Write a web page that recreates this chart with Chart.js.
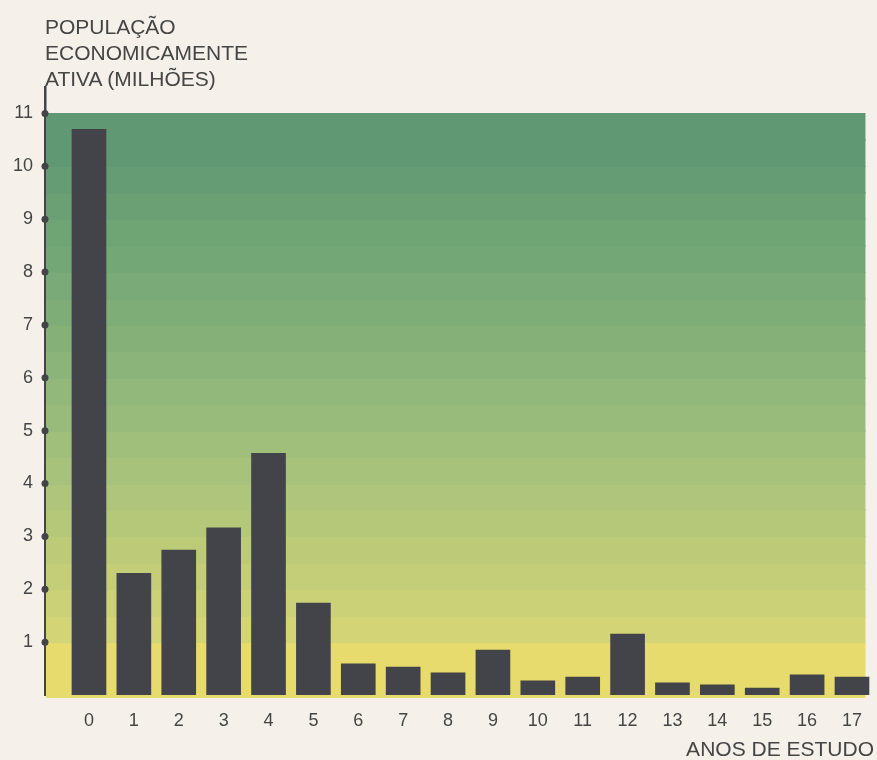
<!DOCTYPE html>
<html>
<head>
<meta charset="utf-8">
<script src="https://cdn.jsdelivr.net/npm/chart.js@4"></script>
<style>
  html, body { margin: 0; padding: 0; background: #f5f1ea; }
  #wrap { position: relative; width: 877px; height: 760px; }
  #titulo {
    position: absolute; left: 45px; top: 14px;
    font-family: "Liberation Sans", Arial, sans-serif; font-size: 21px;
    line-height: 26px; color: #454545;
  }
</style>
</head>
<body>
<div id="wrap">
  <canvas id="grafico" width="877" height="760"></canvas>
  <div id="titulo">POPULAÇÃO<br>ECONOMICAMENTE<br>ATIVA (MILHÕES)</div>
</div>
<script>
// anos de estudo (categorias) e populacao economicamente ativa em milhoes
const anos = [0, 1, 2, 3, 4, 5, 6, 7, 8, 9, 10, 11, 12, 13, 14, 15, 16, 17];
const populacao = [10.7, 2.3, 2.74, 3.16, 4.57, 1.74, 0.59, 0.53, 0.42, 0.85, 0.27, 0.34, 1.15, 0.23, 0.19, 0.13, 0.38, 0.34];
const yTicks = [1, 2, 3, 4, 5, 6, 7, 8, 9, 10, 11];

// kleuren van de achtergrond, van onder (0) naar boven (11)
const faixas = ['#e6db6c', '#d2d475', '#c4ce78', '#b5c87a', '#a6c27b', '#98bb7b',
                '#8bb47a', '#7fad78', '#74a776', '#6aa074', '#5f9872'];

const fundo = {
  id: 'fundo',
  beforeDatasetsDraw(chart) {
    const { ctx, scales: { x, y } } = chart;
    const esq = x.left + 1;
    const dir = x.getPixelForValue(17.3);
    ctx.save();
    for (let i = 0; i < faixas.length; i++) {
      // elke eenheid in twee banden
      for (let h = 0; h < 2; h++) {
        const v0 = i + h * 0.5, v1 = v0 + 0.5;
        let cor = faixas[i];
        if (h === 1 && i < faixas.length - 1 && i > 0) {
          cor = mistura(faixas[i], faixas[i + 1]);
        }
        ctx.fillStyle = cor;
        const t = y.getPixelForValue(v1), b = y.getPixelForValue(v0) + (v0 === 0 ? 2 : 0);
        ctx.fillRect(esq, Math.floor(t), dir - esq, Math.ceil(b - t) + 1);
      }
    }
    ctx.restore();
  },
  afterDraw(chart) {
    const { ctx, scales: { y } } = chart;
    ctx.save();
    ctx.fillStyle = '#444448';
    yTicks.forEach(v => {
      const py = y.getPixelForValue(v);
      ctx.beginPath();
      ctx.arc(y.right, py, 3.5, 0, Math.PI * 2);
      ctx.fill();
    });
    ctx.restore();
  }
};

function mistura(a, b) {
  const pa = [1, 3, 5].map(k => parseInt(a.substr(k, 2), 16));
  const pb = [1, 3, 5].map(k => parseInt(b.substr(k, 2), 16));
  return 'rgb(' + pa.map((c, k) => Math.round((c + pb[k]) / 2)).join(',') + ')';
}

const fonte = { family: '"Liberation Sans", Arial, sans-serif', size: 18 };

new Chart(document.getElementById('grafico'), {
  type: 'bar',
  data: {
    datasets: [{
      data: anos.map((a, i) => ({ x: a, y: populacao[i] })),
      backgroundColor: '#434449',
      borderWidth: 0,
      barThickness: 34
    }]
  },
  options: {
    responsive: false,
    animation: false,
    layout: { padding: { top: 87, right: 0, left: 0, bottom: 0 } },
    plugins: { legend: { display: false }, tooltip: { enabled: false } },
    scales: {
      x: {
        type: 'linear',
        offset: false,
        min: -0.98,
        max: 17.49,
        grid: { display: false, drawTicks: false },
        border: { display: false },
        afterBuildTicks(scale) { scale.ticks = anos.map(v => ({ value: v })); },
        afterFit(scale) { scale.height = 65; },
        ticks: { font: fonte, color: '#454545', padding: 15, maxRotation: 0, autoSkip: false },
        title: {
          display: true, text: 'ANOS DE ESTUDO', align: 'end',
          font: { family: fonte.family, size: 21 }, color: '#454545',
          padding: { top: 0, bottom: -3 }
        }
      },
      y: {
        min: 0,
        max: 11.5,
        grid: { display: false, drawTicks: false },
        border: { display: true, color: '#444448', width: 2.5 },
        afterBuildTicks(scale) { scale.ticks = yTicks.map(v => ({ value: v })); },
        afterFit(scale) { scale.width = 45; },
        ticks: { font: fonte, color: '#454545', padding: 12 }
      }
    }
  },
  plugins: [fundo]
});
</script>
</body>
</html>
